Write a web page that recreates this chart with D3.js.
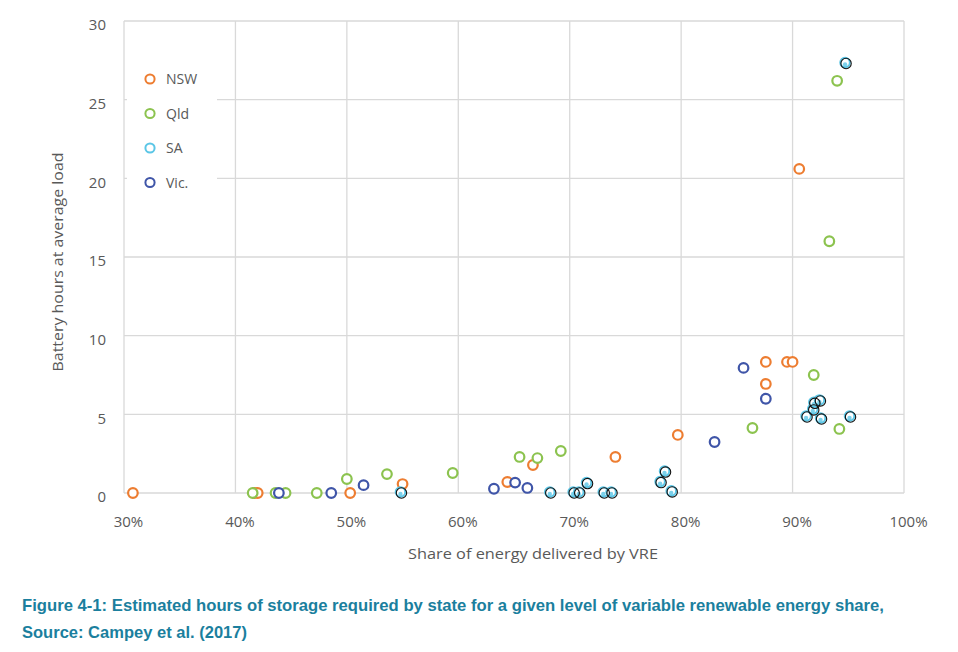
<!DOCTYPE html>
<html>
<head>
<meta charset="utf-8">
<script src="https://cdn.jsdelivr.net/npm/d3@7"></script>
<style>
  html, body { margin: 0; padding: 0; background: #fff; }
  svg { display: block; }
</style>
</head>
<body>
<svg id="chart" width="958" height="652"></svg>
<script>
// ---- Data (share of energy delivered by VRE [%], battery hours at average load) ----
const states = ["NSW", "Qld", "SA", "Vic."];

const nswX = [30.8, 41.7, 42.0, 50.3, 55.0, 64.4, 66.7, 74.1, 79.7, 87.6, 87.6, 89.5, 90.0, 90.6];
const nswY = [0, 0, 0, 0, 0.57, 0.7, 1.78, 2.29, 3.69, 6.93, 8.33, 8.33, 8.33, 20.6];

const qldX = [41.55, 43.6, 44.5, 47.3, 50.0, 53.6, 59.5, 65.5, 67.1, 69.2, 86.4, 94.2, 91.9, 94.0, 93.3];
const qldY = [0, 0, 0, 0, 0.89, 1.2, 1.27, 2.29, 2.22, 2.67, 4.13, 4.07, 7.5, 26.2, 16.0];

const saX = [54.9, 68.3, 70.4, 70.9, 71.6, 73.1, 73.8, 78.2, 78.6, 79.2, 91.3, 91.9, 92.0, 92.5, 92.6, 95.2, 94.8];
const saY = [0, 0, 0, 0, 0.6, 0, 0, 0.66, 1.33, 0.07, 4.83, 5.28, 5.7, 5.85, 4.7, 4.83, 27.3];

const vicX = [43.9, 48.6, 51.5, 63.2, 65.1, 66.2, 83.0, 87.6, 85.6];
const vicY = [0, 0, 0.5, 0.27, 0.66, 0.32, 3.24, 5.99, 7.95];

const xTicks = [30, 40, 50, 60, 70, 80, 90, 100];
const yTicks = [0, 5, 10, 15, 20, 25, 30];

const xTitle = "Share of energy delivered by VRE";
const yTitle = "Battery hours at average load";
const caption1 = "Figure 4-1: Estimated hours of storage required by state for a given level of variable renewable energy share,";
const caption2 = "Source: Campey et al. (2017)";

// ---- Styles ----
const colors = { "NSW": "#ed7d31", "Qld": "#8cc34f", "SA": "#5bc6e6", "Vic.": "#3f55a8" };
const textGray = "#595959";
const gridGray = "#d9d9d9";
const font = "'Open Sans', 'Noto Sans', sans-serif";

const svg = d3.select("#chart");
svg.append("rect").attr("width", 958).attr("height", 652).attr("fill", "#fff");

const x = d3.scaleLinear().domain([30, 100]).range([124, 904]);
const y = d3.scaleLinear().domain([0, 30]).range([493, 21]);

// Gridlines
const grid = svg.append("g");
grid.selectAll("line.v").data(xTicks).join("line")
  .attr("x1", d => x(d)).attr("x2", d => x(d))
  .attr("y1", y(0)).attr("y2", y(30))
  .attr("stroke", gridGray).attr("stroke-width", 1.3);
grid.selectAll("line.h").data(yTicks).join("line")
  .attr("x1", x(30)).attr("x2", x(100))
  .attr("y1", d => y(d)).attr("y2", d => y(d))
  .attr("stroke", gridGray).attr("stroke-width", 1.3);

// Axes (labels only; lines come from grid)
const xAxis = d3.axisBottom(x).tickValues(xTicks).tickFormat(d => d + "%").tickSize(0).tickPadding(0);
const gx = svg.append("g").attr("transform", `translate(4, ${y(0) + 34})`).call(xAxis);
gx.select(".domain").remove();
gx.selectAll("text").attr("fill", textGray).attr("font-family", font).attr("font-size", 15).attr("dy", 0);

const yAxis = d3.axisLeft(y).tickValues(yTicks).tickSize(0).tickPadding(0);
const gy = svg.append("g").attr("transform", `translate(106, 4)`).call(yAxis);
gy.select(".domain").remove();
gy.selectAll("text").attr("fill", textGray).attr("font-family", font).attr("font-size", 15);

// Axis titles
svg.append("text").attr("x", 533).attr("y", 559).attr("text-anchor", "middle")
  .attr("fill", textGray).attr("font-family", font).attr("font-size", 15)
  .attr("textLength", 250).attr("lengthAdjust", "spacingAndGlyphs").text(xTitle);
svg.append("text").attr("transform", "translate(63, 262) rotate(-90)").attr("text-anchor", "middle")
  .attr("fill", textGray).attr("font-family", font).attr("font-size", 15)
  .attr("textLength", 219).attr("lengthAdjust", "spacingAndGlyphs").text(yTitle);

// Legend box (white background interrupting gridlines)
svg.append("rect").attr("x", 127).attr("y", 58).attr("width", 90).attr("height", 142).attr("fill", "#fff");
const legend = svg.append("g");
states.forEach((s, i) => {
  const ly = 79 + i * 34.5;
  legend.append("circle").attr("cx", 150).attr("cy", ly).attr("r", 4.6)
    .attr("fill", "none").attr("stroke", colors[s]).attr("stroke-width", 2);
  legend.append("text").attr("x", 166).attr("y", ly + 5).attr("fill", textGray)
    .attr("font-family", font).attr("font-size", 14).text(s);
});

// Points
const toPts = (xs, ys) => xs.map((v, i) => ({ x: v, y: ys[i] }));
const marks = svg.append("g");
function ring(data, color) {
  marks.append("g").selectAll("circle").data(data).join("circle")
    .attr("cx", d => x(d.x)).attr("cy", d => y(d.y)).attr("r", 4.8)
    .attr("fill", "#fff").attr("stroke", color).attr("stroke-width", 2.2);
}
ring(toPts(nswX, nswY), colors["NSW"]);
ring(toPts(qldX, qldY), colors["Qld"]);
ring(toPts(vicX, vicY), colors["Vic."]);

// SA: light-blue ring with a black ring overlay
const saPts = toPts(saX, saY);
const sag = marks.append("g");
sag.selectAll("circle.sa").data(saPts).join("circle")
  .attr("cx", d => x(d.x) - 1).attr("cy", d => y(d.y) - 1).attr("r", 4.8)
  .attr("fill", "#fff").attr("stroke", colors["SA"]).attr("stroke-width", 2);
sag.selectAll("circle.sa2").data(saPts).join("circle")
  .attr("cx", d => x(d.x) - 1).attr("cy", d => y(d.y) + 1).attr("r", 2.2)
  .attr("fill", colors["SA"]).attr("opacity", 0.8);
sag.selectAll("circle.sab").data(saPts).join("circle")
  .attr("cx", d => x(d.x)).attr("cy", d => y(d.y)).attr("r", 5.2)
  .attr("fill", "none").attr("stroke", "#111").attr("stroke-width", 1.1);

// Caption
const capColor = "#1b7f9e";
const capFont = "'Liberation Sans Narrow', 'Liberation Sans', sans-serif";
svg.append("text").attr("x", 22).attr("y", 611).attr("fill", capColor)
  .attr("font-family", capFont).attr("font-weight", "bold").attr("font-size", 16.5)
  .attr("textLength", 862).attr("lengthAdjust", "spacingAndGlyphs").text(caption1);
svg.append("text").attr("x", 22).attr("y", 638).attr("fill", capColor)
  .attr("font-family", capFont).attr("font-weight", "bold").attr("font-size", 16.5)
  .attr("textLength", 225).attr("lengthAdjust", "spacingAndGlyphs").text(caption2);
</script>
</body>
</html>
